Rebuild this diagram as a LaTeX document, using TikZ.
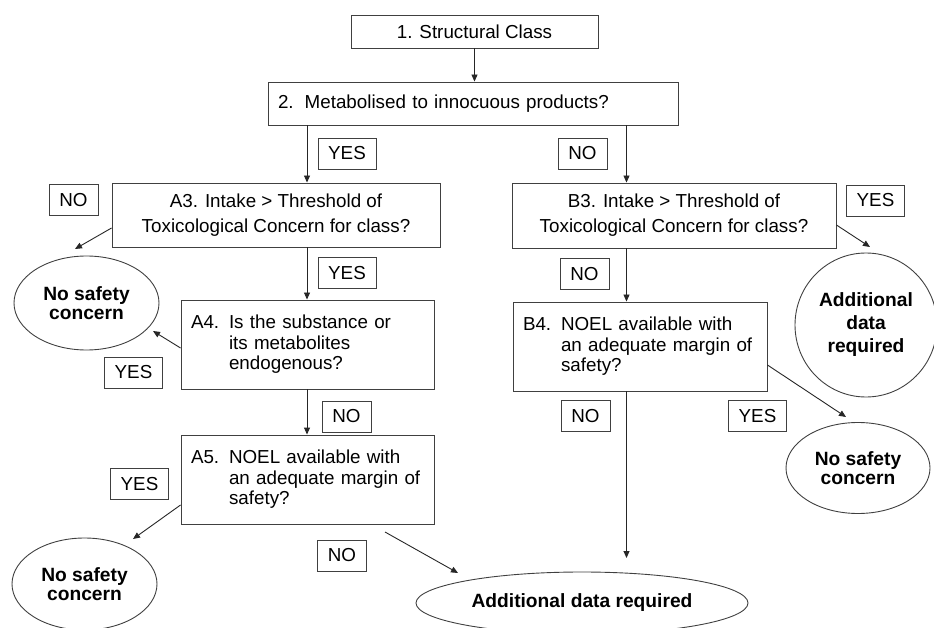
\documentclass[tikz,border=0pt]{standalone}
\usepackage{fontspec}
\setmainfont{Liberation Sans}
\usetikzlibrary{arrows.meta,shapes.geometric,positioning}

\begin{document}
\begin{tikzpicture}
[x=1pt,y=-1pt,
 qbox/.style={draw=black!75,line width=0.9pt,inner xsep=10pt,inner ysep=0pt,font=\fontsize{18.8}{20.5}\selectfont},
 tag/.style={draw=black!75,line width=0.9pt,minimum height=31pt,inner sep=0pt,font=\fontsize{18.8}{20.5}\selectfont},
 endpt/.style={ellipse,draw=black!75,line width=0.9pt,inner sep=0pt,align=center,font=\bfseries\fontsize{19.2}{19.7}\selectfont},
 arr/.style={draw=black!85,line width=0.9pt,-{Triangle[length=7pt,width=6pt]}}]
\useasboundingbox (0,0) rectangle (934,628);

% question boxes
\node[qbox,minimum width=247pt,minimum height=33pt] (cls) at (474.5,31.5) {1. Structural Class};
\node[qbox,text width=390pt,minimum height=43pt,align=left] (met) at (473,103.5) {2.\hspace{11pt}Metabolised to innocuous products?};
\node[qbox,minimum width=328pt,minimum height=64pt,align=center,font=\fontsize{18.8}{25}\selectfont] (a3) at (276,215) {A3. Intake > Threshold of\\Toxicological Concern for class?};
\node[qbox,minimum width=324pt,minimum height=65pt,align=center,font=\fontsize{18.8}{25}\selectfont] (b3) at (674,215.5) {B3. Intake > Threshold of\\Toxicological Concern for class?};
\node[qbox,text width=233pt,minimum height=89pt,align=left] (a4) at (307.5,344.5) {A4.\hspace{9.8pt}Is the substance or\\\hspace*{38pt}its metabolites\\\hspace*{38pt}endogenous?};
\node[qbox,text width=233pt,minimum height=89pt,align=left] (a5) at (307.5,479.5) {A5.\hspace{9.8pt}NOEL available with\\\hspace*{38pt}an adequate margin of\\\hspace*{38pt}safety?};
\node[qbox,text width=234pt,minimum height=89pt,align=left] (b4) at (640,346.5) {B4.\hspace{9.8pt}NOEL available with\\\hspace*{38pt}an adequate margin of\\\hspace*{38pt}safety?};

% outcomes
\node[endpt,minimum width=145pt,minimum height=94pt] (ns1) at (86.5,303) {No safety\\concern};
\node[endpt,minimum width=145pt,minimum height=92pt] (ns2) at (84.5,584) {No safety\\concern};
\node[endpt,minimum width=144pt,minimum height=91pt] (ns3) at (858,468) {No safety\\concern};
\node[endpt,minimum width=142pt,minimum height=144pt,font=\bfseries\fontsize{19.2}{23}\selectfont] (add1) at (866,325) {Additional\\data\\required};
\node[endpt,minimum width=332pt,minimum height=62pt] (add2) at (582,603) {Additional data required};

% answer tags
\node[tag,minimum width=58pt] (y1) at (347,153.5) {YES};
\node[tag,minimum width=49pt] (n1) at (582.5,153.5) {NO};
\node[tag,minimum width=49pt] (n2) at (73.5,200) {NO};
\node[tag,minimum width=58pt] (y2) at (347,273) {YES};
\node[tag,minimum width=58pt] (y3) at (133.5,372.5) {YES};
\node[tag,minimum width=49pt] (n3) at (346.5,416.5) {NO};
\node[tag,minimum width=58pt] (y4) at (139.5,484) {YES};
\node[tag,minimum width=49pt] (n4) at (342,555.5) {NO};
\node[tag,minimum width=58pt] (y5) at (875.5,200.5) {YES};
\node[tag,minimum width=49pt] (n5) at (584.5,274) {NO};
\node[tag,minimum width=49pt] (n6) at (585.5,416) {NO};
\node[tag,minimum width=58pt] (y6) at (757.5,416) {YES};

\coordinate (lx) at (307,0);
\coordinate (rx) at (626.5,0);
\coordinate (e1) at (75,249);
\coordinate (e2) at (153,331);
\coordinate (e3) at (133,539);
\coordinate (s4) at (385,532);
\coordinate (e4) at (458,573);
\coordinate (e5) at (870,247);
\coordinate (e6) at (846,417);
\coordinate (e7) at (626.5,558);

\draw[arr] (cls.south) -- (cls.south |- met.north);
\draw[arr] (met.south -| lx) -- (a3.north -| lx);
\draw[arr] (met.south -| rx) -- (b3.north -| rx);
\draw[arr] (a3.south -| lx) -- (a4.north -| lx);
\draw[arr] (a4.south -| lx) -- (a5.north -| lx);
\draw[arr] (b3.south -| rx) -- (b4.north -| rx);
\draw[arr] (b4.south -| rx) -- (e7);
\draw[arr] ([yshift=-13pt]a3.west) -- (e1);
\draw[arr] ([yshift=-3.5pt]a4.west) -- (e2);
\draw[arr] ([yshift=-25.5pt]a5.west) -- (e3);
\draw[arr] (s4) -- (e4);
\draw[arr] ([yshift=-9.5pt]b3.east) -- (e5);
\draw[arr] ([yshift=-18.5pt]b4.east) -- (e6);
\end{tikzpicture}
\end{document}
